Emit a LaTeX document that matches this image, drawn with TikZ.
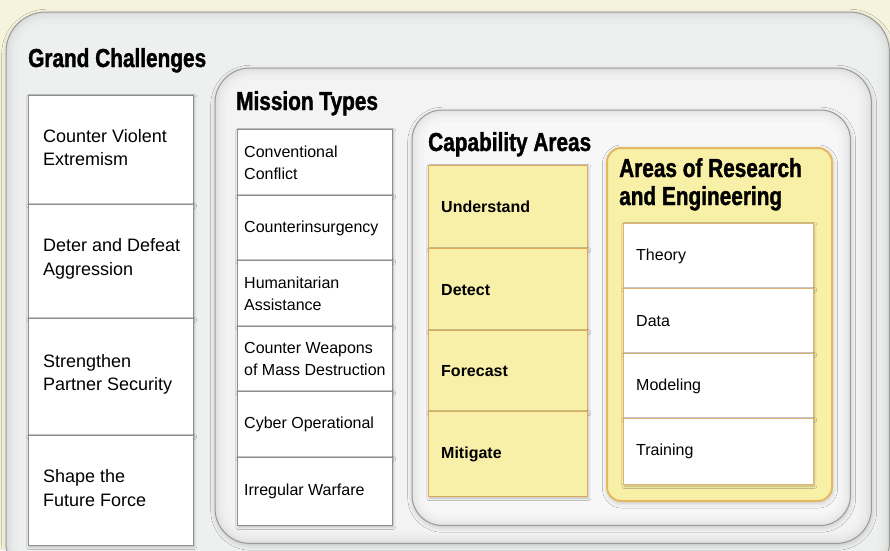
\documentclass[tikz,border=0pt]{standalone}
\usepackage{fontspec}
\setmainfont{Liberation Sans}
\newfontfamily\titlefont[FakeStretch=0.8, BoldFeatures={FakeBold=1.3}]{Liberation Sans}
\usetikzlibrary{shadows.blur}

\definecolor{cream}{HTML}{F6F3DD}
\definecolor{shellA}{HTML}{EEEFEF}
\definecolor{shellB}{HTML}{F3F3F3}
\definecolor{shellC}{HTML}{F7F7F7}
\definecolor{shellline}{HTML}{9A9A9A}
\definecolor{cellline}{HTML}{8E8E8E}
\definecolor{capfill}{HTML}{F8F0A8}
\definecolor{capline}{HTML}{DDA95A}
\definecolor{areafill}{HTML}{F8F0A6}
\definecolor{arealine}{HTML}{E4B862}
\definecolor{rowline}{HTML}{DDB274}

% soft darkening just inside the border of a rounded container
\newcommand\shellglow[2]{%
  \begin{scope}
    \clip[rounded corners=#2] (#1.north west) rectangle (#1.south east);
    \foreach \w/\o in {24/0.012,16/0.015,10/0.018,5/0.022}{%
      \draw[line width=\w pt, black, opacity=\o, rounded corners=#2]
        (#1.north west) rectangle (#1.south east);}
  \end{scope}%
  \draw[shellline, line width=1pt, rounded corners=#2]
    (#1.north west) rectangle (#1.south east);}

\tikzset{
  shell/.style={draw=none, inner sep=0pt, anchor=north west,
    blur shadow={shadow xshift=0.5pt, shadow yshift=-2pt,
      shadow blur radius=5pt, shadow opacity=20}},
  heading/.style={anchor=base west, inner sep=0pt,
    font=\titlefont\bfseries\fontsize{26pt}{28pt}\selectfont},
  cellshadow/.style={blur shadow={shadow xshift=0.8pt, shadow yshift=-1.5pt,
      shadow blur radius=2.5pt, shadow opacity=25}},
  gccell/.style={draw=cellline, fill=white, line width=0.9pt, inner sep=0pt,
    anchor=north west, minimum width=165pt, cellshadow},
  mtcell/.style={draw=cellline, fill=white, line width=0.9pt, inner sep=0pt,
    anchor=north west, minimum width=155pt, cellshadow},
  cacell/.style={draw=capline, fill=capfill, line width=1.3pt, inner sep=0pt,
    anchor=north west, minimum width=159pt, cellshadow},
  arcell/.style={draw=rowline, fill=white, line width=1pt, inner sep=0pt,
    anchor=north west, minimum width=190pt, cellshadow},
  gctext/.style={anchor=west, inner sep=0pt, align=left, yshift=2.5pt,
    font=\fontsize{18pt}{23.5pt}\selectfont},
  mttext/.style={anchor=west, inner sep=0pt, align=left,
    font=\fontsize{16pt}{22pt}\selectfont},
  catext/.style={anchor=west, inner sep=0pt, align=left,
    font=\bfseries\fontsize{16pt}{20pt}\selectfont},
  artext/.style={anchor=west, inner sep=0pt, align=left,
    font=\fontsize{16pt}{20pt}\selectfont},
}

\begin{document}
\begin{tikzpicture}[x=1pt, y=-1pt]
  \useasboundingbox (0,0) rectangle (890,550);
  \clip (0,0) rectangle (890,550);
  \fill[cream] (0,0) rectangle (890,550);

  % nested containers
  \node[shell, fill=shellA, rounded corners=40pt,
        minimum width=883pt, minimum height=570pt] (outer) at (6,12) {};
  \shellglow{outer}{40pt}
  \node[shell, fill=shellB, rounded corners=35pt,
        minimum width=656pt, minimum height=475pt] (mission) at (215,68) {};
  \shellglow{mission}{35pt}
  \node[shell, fill=shellC, rounded corners=30pt,
        minimum width=438pt, minimum height=415pt] (capab) at (412,110) {};
  \shellglow{capab}{30pt}
  \node[shell, fill=areafill, draw=arealine, line width=2pt, rounded corners=14pt,
        minimum width=225pt, minimum height=353pt] (areas) at (606,147) {};

  % headings
  \node[heading] (hgc) at (28,67) {Grand Challenges};
  \node[heading] (hmt) at (236,110) {Mission Types};
  \node[heading] (hca) at (428,151) {Capability Areas};
  \node[heading] (har1) at (619,177) {Areas of Research};
  \node[heading] (har2) at (619,205) {and Engineering};

  % Grand Challenges column
  \foreach \i/\y/\h/\t in {
      1/95/109/{Counter Violent\\Extremism},
      2/204/114/{Deter and Defeat\\Aggression},
      3/318/117/{Strengthen\\Partner Security},
      4/435/110/{Shape the\\Future Force}}{
    \node[gccell, minimum height=\h pt] (gc\i) at (28,\y) {};
    \node[gctext] (gc\i t) at ([xshift=15pt]gc\i.west) {\t};
  }

  % Mission Types column
  \foreach \i/\y/\h/\t in {
      1/129/66/{Conventional\\Conflict},
      2/195/65/{Counterinsurgency},
      3/260/66/{Humanitarian\\Assistance},
      4/326/65/{Counter Weapons\\of Mass Destruction},
      5/391/66/{Cyber Operational},
      6/457/68/{Irregular Warfare}}{
    \node[mtcell, minimum height=\h pt] (mt\i) at (237,\y) {};
    \node[mttext] (mt\i t) at ([xshift=7pt]mt\i.west) {\t};
  }

  % Capability Areas column
  \foreach \i/\y/\h/\t in {
      1/165/83/{Understand},
      2/248/82/{Detect},
      3/330/81/{Forecast},
      4/411/85/{Mitigate}}{
    \node[cacell, minimum height=\h pt] (ca\i) at (428,\y) {};
    \node[catext] (ca\i t) at ([xshift=13pt]ca\i.west) {\t};
  }

  % Areas of Research and Engineering column
  \foreach \i/\y/\h/\t in {
      1/223/65/{Theory},
      2/288/65/{Data},
      3/353/65/{Modeling},
      4/418/66/{Training}}{
    \node[arcell, minimum height=\h pt] (ar\i) at (623,\y) {};
    \node[artext] (ar\i t) at ([xshift=13pt]ar\i.west) {\t};
  }
\end{tikzpicture}
\end{document}
